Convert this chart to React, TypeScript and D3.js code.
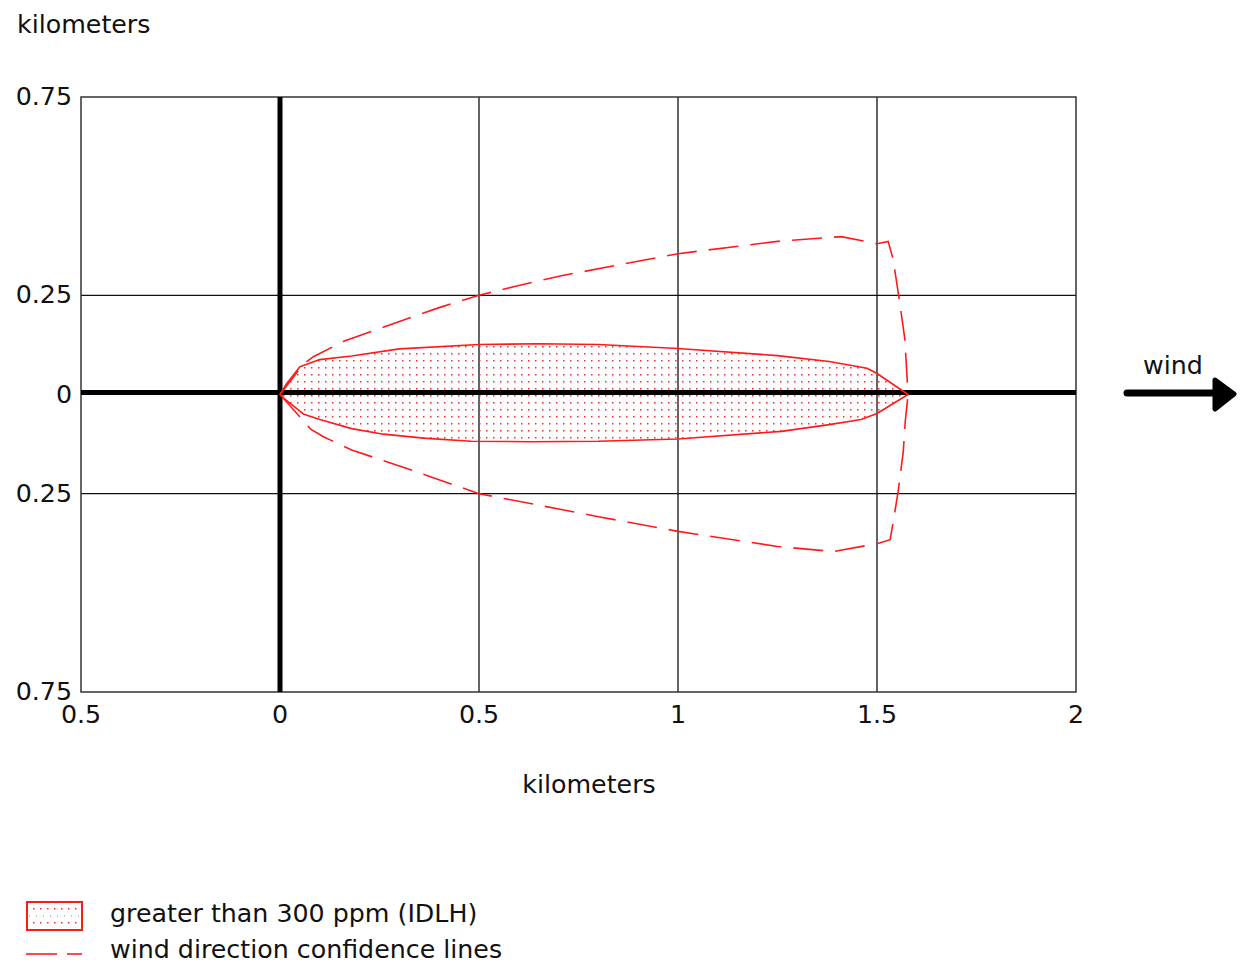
import React from "react";
import * as d3 from "d3";

const xTicks = [-0.5, 0, 0.5, 1, 1.5, 2];
const xTickLabels = ["0.5", "0", "0.5", "1", "1.5", "2"];
const yTicks = [0.75, 0.25, 0, -0.25, -0.75];
const yTickLabels = ["0.75", "0.25", "0", "0.25", "0.75"];

// IDLH plume (> 300 ppm)
const plumeX = [0, 0.015, 0.05, 0.1, 0.18, 0.3, 0.5, 0.65, 0.8, 1.0, 1.25, 1.38, 1.475, 1.5, 1.578];
const plumeUpper = [0, 0.025, 0.07, 0.088, 0.097, 0.115, 0.126, 0.128, 0.126, 0.116, 0.098, 0.083, 0.066, 0.053, 0];
const plumeLowerX = [0, 0.01, 0.06, 0.1, 0.18, 0.26, 0.36, 0.48, 0.63, 0.8, 1.0, 1.26, 1.38, 1.46, 1.5, 1.578];
const plumeLower = [0, -0.01, -0.05, -0.063, -0.086, -0.1, -0.11, -0.118, -0.119, -0.118, -0.112, -0.093, -0.076, -0.063, -0.048, 0];

// Wind direction confidence lines
const confUpperX = [0, 0.058, 0.085, 0.16, 0.23, 0.3, 0.4, 0.5, 0.6, 0.71, 1.0, 1.25, 1.41, 1.5, 1.528, 1.54, 1.556, 1.57, 1.578];
const confUpper = [0, 0.076, 0.096, 0.134, 0.159, 0.184, 0.219, 0.25, 0.275, 0.3, 0.355, 0.386, 0.398, 0.38, 0.386, 0.343, 0.24, 0.139, 0];
const confLowerX = [0, 0.078, 0.108, 0.18, 0.3, 0.5, 0.8, 1.0, 1.25, 1.39, 1.5, 1.533, 1.541, 1.553, 1.566, 1.571, 1.578];
const confLower = [0, -0.088, -0.106, -0.14, -0.18, -0.25, -0.308, -0.345, -0.383, -0.396, -0.376, -0.366, -0.32, -0.245, -0.144, -0.068, 0];

const legendLabels = ["greater than 300 ppm (IDLH)", "wind direction confidence lines"];

const FONT = "'DejaVu Sans', Verdana, sans-serif";
const RED = "#ff1a1a";

export default function App() {
  const W = 1243, H = 967;
  const x = d3.scaleLinear().domain([-0.5, 2]).range([81, 1076]);
  const y = d3.scaleLinear().domain([0.75, -0.75]).range([97, 692]);

  const upperPts: [number, number][] = plumeX.map((v, i) => [x(v), y(plumeUpper[i])]);
  const lowerPts: [number, number][] = plumeLowerX.map((v, i) => [x(v), y(plumeLower[i])]);
  const polyPts = upperPts.concat(lowerPts.slice().reverse());
  const line = d3.line();
  const plumePath = line(polyPts) + "Z";
  const cu = line(confUpperX.map((v, i) => [x(v), y(confUpper[i])] as [number, number]));
  const cl = line(confLowerX.map((v, i) => [x(v), y(confLower[i])] as [number, number]));

  const fs = 25.3;
  return (
    <svg width={W} height={H} style={{ position: "absolute", left: 0, top: 0, background: "#fff" }} fontFamily={FONT}>
      <defs>
        <pattern id="dots" patternUnits="userSpaceOnUse" width={7} height={7}>
          <rect x={3} y={3} width={1.5} height={1.5} fill="#ff2a2a" />
        </pattern>
        <pattern id="ldots" patternUnits="userSpaceOnUse" x={30} y={905} width={7} height={14}>
          <rect x={3} y={3} width={1.5} height={1.5} fill="#ff2a2a" />
          <rect x={6.5} y={10} width={1.5} height={1.5} fill="#ff2a2a" />
        </pattern>
      </defs>
      <rect width={W} height={H} fill="#fff" />
      {/* grid */}
      {[0.5, 1, 1.5].map((v) => (
        <line key={"gx" + v} x1={x(v)} x2={x(v)} y1={y(0.75)} y2={y(-0.75)} stroke="#111" strokeWidth={1.3} />
      ))}
      {[0.25, -0.25].map((v) => (
        <line key={"gy" + v} x1={x(-0.5)} x2={x(2)} y1={y(v)} y2={y(v)} stroke="#111" strokeWidth={1.3} />
      ))}
      <rect x={x(-0.5)} y={y(0.75)} width={x(2) - x(-0.5)} height={y(-0.75) - y(0.75)} fill="none" stroke="#333" strokeWidth={1.5} />

      {/* plume */}
      <path d={plumePath} fill="url(#dots)" stroke="none" />
      {/* axes thick */}
      <line x1={x(0)} x2={x(0)} y1={y(0.75)} y2={y(-0.75)} stroke="#000" strokeWidth={5} />
      <line x1={x(-0.5)} x2={x(2)} y1={392.5} y2={392.5} stroke="#000" strokeWidth={5} />
      <path d={plumePath} fill="none" stroke={RED} strokeWidth={1.6} strokeLinejoin="round" />
      <path d={cu || ""} fill="none" stroke={RED} strokeWidth={1.6} strokeDasharray="30 12" />
      <path d={cl || ""} fill="none" stroke={RED} strokeWidth={1.6} strokeDasharray="30 12" />

      {/* tick labels */}
      {xTicks.map((v, i) => (
        <text key={"xt" + i} x={x(v)} y={723} textAnchor="middle" fontSize={fs} fill="#111">
          {xTickLabels[i]}
        </text>
      ))}
      {yTicks.map((v, i) => (
        <text key={"yt" + i} x={72} y={y(v) + 8} textAnchor="end" fontSize={fs} fill="#111">
          {yTickLabels[i]}
        </text>
      ))}
      <text x={17} y={33} fontSize={fs} fill="#111">kilometers</text>
      <text x={589} y={793} textAnchor="middle" fontSize={fs} fill="#111">kilometers</text>

      {/* wind arrow */}
      <text x={1143} y={374} fontSize={fs} fill="#111">wind</text>
      <line x1={1127} x2={1216} y1={393} y2={393} stroke="#000" strokeWidth={7} strokeLinecap="round" />
      <path d="M1215,380 L1234,394 L1215,409 Z" fill="#000" stroke="#000" strokeWidth={5} strokeLinejoin="round" />

      {/* legend */}
      <rect x={27} y={902} width={55} height={28} fill="url(#ldots)" stroke={RED} strokeWidth={2} />
      <text x={110} y={922} fontSize={fs} fill="#111">{legendLabels[0]}</text>
      <line x1={26} x2={57} y1={954} y2={954} stroke={RED} strokeWidth={1.6} />
      <line x1={67} x2={82} y1={954} y2={954} stroke={RED} strokeWidth={1.6} />
      <text x={110} y={958} fontSize={fs} fill="#111">{legendLabels[1]}</text>
    </svg>
  );
}
